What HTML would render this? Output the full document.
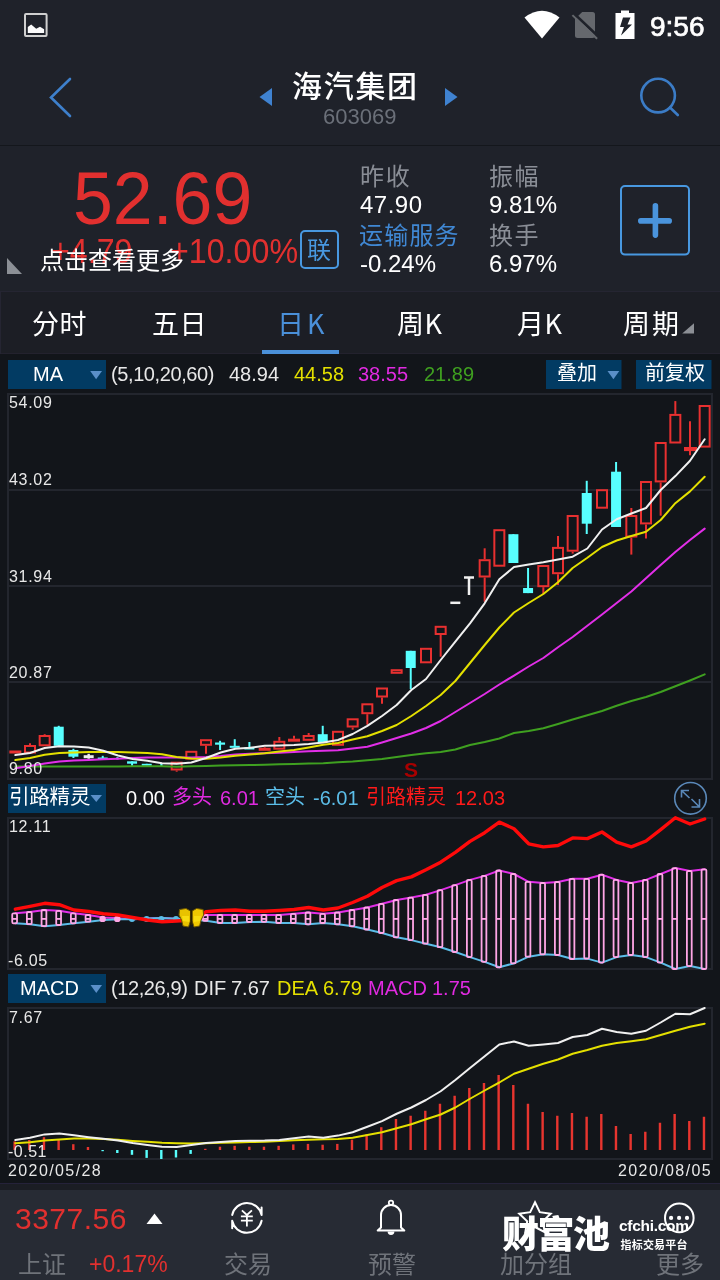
<!DOCTYPE html>
<html><head><meta charset="utf-8">
<style>
*{margin:0;padding:0;box-sizing:border-box}
html,body{width:720px;height:1280px;overflow:hidden;background:#1f222a}
body{position:relative;font-family:"Liberation Sans","Noto Sans CJK SC",sans-serif;color:#fff}
.a{position:absolute;white-space:nowrap;line-height:1}
.cjk{font-family:"Noto Sans CJK SC","Liberation Sans",sans-serif}
svg.full{position:absolute;left:0;top:0}
</style></head><body>
<!-- backgrounds -->
<div class="a" style="left:0;top:0;width:720px;height:145px;background:#1f222a"></div>
<div class="a" style="left:0;top:145px;width:720px;height:1px;background:#14171c"></div>
<div class="a" style="left:0;top:146px;width:720px;height:145px;background:#1f222a"></div>
<div class="a" style="left:0;top:291px;width:720px;height:1px;background:#252532"></div>
<div class="a" style="left:0;top:292px;width:720px;height:62px;background:#1c1e25"></div>
<div class="a" style="left:0;top:353px;width:720px;height:1px;background:#23222e"></div>
<div class="a" style="left:0;top:292px;width:1px;height:62px;background:#252532"></div>
<div class="a" style="left:0;top:354px;width:720px;height:829px;background:#12151a"></div>
<div class="a" style="left:0;top:1183px;width:720px;height:1px;background:#25223a"></div>
<div class="a" style="left:0;top:1184px;width:720px;height:6px;background:#1b1d24"></div>
<div class="a" style="left:0;top:1190px;width:720px;height:90px;background:#272b34"></div>

<!-- status bar -->
<svg class="full" width="720" height="1280" viewBox="0 0 720 1280">
 <!-- gallery icon -->
 <rect x="25" y="14" width="21.6" height="22" rx="1" fill="none" stroke="#cfcfcf" stroke-width="2"/>
 <path d="M27.8,33 L27.8,26.9 L31.2,24.6 L36.2,28.7 L40,26.8 L44.1,29.3 L44.1,33 Z" fill="#fafafa"/>
 <!-- wifi -->
 <path d="M524.5,17.5 Q542,4 559.5,17.5 L542,38.5 Z" fill="#ffffff"/>
 <!-- sim -->
 <path d="M582.2,12 L592.5,12 Q595,12 595,14.5 L595,35.5 Q595,38 592.5,38 L577.5,38 Q575,38 575,35.5 L575,19 Z" fill="#65686d"/>
 <line x1="573.6" y1="13.2" x2="599" y2="37.3" stroke="#1f222a" stroke-width="2.8"/>
 <line x1="572.4" y1="15.1" x2="597.1" y2="38.7" stroke="#65686d" stroke-width="2"/>
 <!-- battery -->
 <rect x="621" y="10.5" width="8" height="3" fill="#fff"/>
 <rect x="615.5" y="13" width="19" height="26" fill="#fff"/>
 <path d="M623,17.5 L630.5,17.5 L627.5,24.5 L632,24.5 L621,35.5 L624,27 L620,27 Z" fill="#1f222a"/>
 <!-- back chevron -->
 <polyline points="70,79 51,97.5 70,116" fill="none" stroke="#3e80cc" stroke-width="2.6" stroke-linecap="round"/>
 <!-- small triangles -->
 <path d="M272,88 L272,106 L259.5,97 Z" fill="#3f82d0"/>
 <path d="M445,88 L445,106 L457.5,97 Z" fill="#3f82d0"/>
 <!-- search -->
 <circle cx="658.1" cy="95.6" r="16.8" fill="none" stroke="#3b7cc6" stroke-width="2.6"/>
 <line x1="670" y1="107.5" x2="677.8" y2="115" stroke="#3b7cc6" stroke-width="2.6" stroke-linecap="round"/>
 <!-- gray corner triangle -->
 <path d="M7,258 L22,274 L7,274 Z" fill="#8c9096"/>
 <!-- lian box -->
 <rect x="301" y="231" width="37" height="37" rx="4" fill="none" stroke="#4898e0" stroke-width="2"/>
 <!-- plus box -->
 <rect x="621" y="186" width="68" height="68.6" rx="4" fill="none" stroke="#4898e0" stroke-width="2"/>
 <path d="M640.8,220.9 L669.2,220.9 M655.4,205.8 L655.4,235.1" stroke="#4a94dc" stroke-width="5.6" stroke-linecap="round"/>
 <!-- tab underline -->
 <rect x="262" y="350" width="77" height="4" fill="#4a90d9"/>
 <!-- 周期 triangle -->
 <path d="M694,323.3 L694,333.6 L682.2,333.6 Z" fill="#8c8f95"/>
 <!-- legend boxes -->
 <rect x="8" y="360" width="98" height="29" fill="#023b63"/>
 <path d="M90.2,371 L102,371 L96.1,379.2 Z" fill="#5a8fc8"/>
 <rect x="546" y="360" width="75.5" height="29" fill="#023b63"/>
 <path d="M607.5,371 L619.3,371 L613.4,379.2 Z" fill="#5a8fc8"/>
 <rect x="636" y="360" width="75.5" height="29" fill="#023b63"/>
 <rect x="8" y="784" width="98" height="29" fill="#023b63"/>
 <path d="M90.5,795 L102,795 L96.25,802 Z" fill="#5a8fc8"/>
 <rect x="8" y="974" width="98" height="29" fill="#023b63"/>
 <path d="M90.5,985 L102,985 L96.25,993 Z" fill="#5a8fc8"/>
 <!-- expand icon -->
 <circle cx="690.5" cy="798.3" r="15.8" fill="none" stroke="#5a88b8" stroke-width="1.6"/>
 <path d="M681.5,797.5 L681.5,790.5 L689,790.5 M681.5,790.5 L689.5,798" fill="none" stroke="#5a88b8" stroke-width="1.6"/>
 <path d="M699.5,799 L699.5,807 L691.5,807 M699.5,807 L691.5,799" fill="none" stroke="#5a88b8" stroke-width="1.6"/>
<rect x="8" y="394" width="704" height="385" fill="none" stroke="#23262e" stroke-width="2"/>
<line x1="8" x2="712" y1="490" y2="490" stroke="#23262e" stroke-width="2"/>
<line x1="8" x2="712" y1="586" y2="586" stroke="#23262e" stroke-width="2"/>
<line x1="8" x2="712" y1="682" y2="682" stroke="#23262e" stroke-width="2"/>
<rect x="8" y="818" width="704" height="151" fill="none" stroke="#23262e" stroke-width="2"/>
<rect x="8" y="1008" width="704" height="151" fill="none" stroke="#23262e" stroke-width="2"/>
<rect x="9.33" y="750.5" width="12" height="3" fill="#e83030"/>
<line x1="30" x2="30" y1="743.3" y2="745" stroke="#e83030" stroke-width="2"/>
<rect x="25" y="746" width="10" height="6.5" fill="none" stroke="#e83030" stroke-width="2"/>
<line x1="44.67" x2="44.67" y1="734.2" y2="735" stroke="#e83030" stroke-width="2"/>
<rect x="39.67" y="736" width="10" height="9.3" fill="none" stroke="#e83030" stroke-width="2"/>
<line x1="58.73" x2="58.73" y1="725.8" y2="745.8" stroke="#58ffff" stroke-width="2"/>
<rect x="53.73" y="726.7" width="10" height="19.1" fill="#58ffff"/>
<line x1="73.4" x2="73.4" y1="748.8" y2="758" stroke="#58ffff" stroke-width="2"/>
<rect x="68.4" y="750" width="10" height="6.7" fill="#58ffff"/>
<line x1="88.67" x2="88.67" y1="753.8" y2="758.7" stroke="#f0f0f0" stroke-width="2.4"/>
<line x1="83.67" x2="93.67" y1="756.7" y2="756.7" stroke="#f0f0f0" stroke-width="3"/>
<line x1="102.73" x2="102.73" y1="755.8" y2="758.7" stroke="#58ffff" stroke-width="2"/>
<rect x="97.73" y="757.5" width="10" height="2" fill="#58ffff"/>
<line x1="117.4" x2="117.4" y1="757.2" y2="759.5" stroke="#58ffff" stroke-width="2.2"/>
<line x1="132.07" x2="132.07" y1="761.3" y2="765.8" stroke="#58ffff" stroke-width="2"/>
<rect x="127.07" y="761.3" width="10" height="2.4" fill="#58ffff"/>
<line x1="146.73" x2="146.73" y1="763.8" y2="765.5" stroke="#58ffff" stroke-width="2"/>
<rect x="141.73" y="763.8" width="10" height="2" fill="#58ffff"/>
<line x1="161.4" x2="161.4" y1="763.5" y2="766" stroke="#58ffff" stroke-width="2.2"/>
<line x1="176.67" x2="176.67" y1="770.5" y2="771.7" stroke="#e83030" stroke-width="2"/>
<rect x="171.67" y="762.7" width="10" height="6.8" fill="none" stroke="#e83030" stroke-width="2"/>
<rect x="186.33" y="751.8" width="10" height="6.9" fill="none" stroke="#e83030" stroke-width="2"/>
<line x1="206" x2="206" y1="745.8" y2="753.7" stroke="#e83030" stroke-width="2"/>
<rect x="201" y="740.2" width="10" height="4.6" fill="none" stroke="#e83030" stroke-width="2"/>
<line x1="220.07" x2="220.07" y1="740.8" y2="750" stroke="#58ffff" stroke-width="2"/>
<rect x="215.07" y="742.5" width="10" height="2.2" fill="#58ffff"/>
<line x1="234.73" x2="234.73" y1="739.2" y2="747.2" stroke="#58ffff" stroke-width="2"/>
<rect x="229.73" y="745.8" width="10" height="2" fill="#58ffff"/>
<line x1="249.4" x2="249.4" y1="742" y2="748.7" stroke="#58ffff" stroke-width="2"/>
<rect x="244.4" y="747.5" width="10" height="2" fill="#58ffff"/>
<line x1="264.67" x2="264.67" y1="747" y2="747.8" stroke="#e83030" stroke-width="2"/>
<rect x="258.67" y="747.8" width="12" height="3" fill="#e83030"/>
<line x1="279.33" x2="279.33" y1="737" y2="740.8" stroke="#e83030" stroke-width="2"/>
<rect x="274.33" y="741.8" width="10" height="6.9" fill="none" stroke="#e83030" stroke-width="2"/>
<line x1="294" x2="294" y1="735.8" y2="738.7" stroke="#e83030" stroke-width="2"/>
<rect x="288" y="738.7" width="12" height="3" fill="#e83030"/>
<line x1="308.67" x2="308.67" y1="733" y2="735" stroke="#e83030" stroke-width="2"/>
<rect x="303.67" y="736" width="10" height="3.8" fill="none" stroke="#e83030" stroke-width="2"/>
<line x1="322.73" x2="322.73" y1="725.8" y2="742.5" stroke="#58ffff" stroke-width="2"/>
<rect x="317.73" y="734.2" width="10" height="8.3" fill="#58ffff"/>
<rect x="333" y="731.8" width="10" height="13" fill="none" stroke="#e83030" stroke-width="2"/>
<line x1="352.67" x2="352.67" y1="727.5" y2="729.7" stroke="#e83030" stroke-width="2"/>
<rect x="347.67" y="719.3" width="10" height="7.2" fill="none" stroke="#e83030" stroke-width="2"/>
<line x1="367.33" x2="367.33" y1="714.2" y2="724.7" stroke="#e83030" stroke-width="2"/>
<rect x="362.33" y="704.3" width="10" height="8.9" fill="none" stroke="#e83030" stroke-width="2"/>
<line x1="382" x2="382" y1="697.5" y2="703.7" stroke="#e83030" stroke-width="2"/>
<rect x="377" y="688.5" width="10" height="8" fill="none" stroke="#e83030" stroke-width="2"/>
<rect x="391.67" y="670.2" width="10" height="2.6" fill="none" stroke="#e83030" stroke-width="2"/>
<line x1="410.73" x2="410.73" y1="650.8" y2="689.2" stroke="#58ffff" stroke-width="2"/>
<rect x="405.73" y="650.8" width="10" height="17.2" fill="#58ffff"/>
<rect x="421" y="648.8" width="10" height="13.5" fill="none" stroke="#e83030" stroke-width="2"/>
<line x1="440.67" x2="440.67" y1="635" y2="656.7" stroke="#e83030" stroke-width="2"/>
<rect x="435.67" y="626.8" width="10" height="7.2" fill="none" stroke="#e83030" stroke-width="2"/>
<line x1="450.33" x2="460.33" y1="602.8" y2="602.8" stroke="#f0f0f0" stroke-width="2.5"/>
<line x1="464" x2="474" y1="577.5" y2="577.5" stroke="#f0f0f0" stroke-width="2.5"/>
<line x1="469" x2="469" y1="577.5" y2="595" stroke="#f0f0f0" stroke-width="2.5"/>
<line x1="484.67" x2="484.67" y1="548.3" y2="559.2" stroke="#e83030" stroke-width="2"/>
<line x1="484.67" x2="484.67" y1="577.5" y2="601.7" stroke="#e83030" stroke-width="2"/>
<rect x="479.67" y="560.2" width="10" height="16.3" fill="none" stroke="#e83030" stroke-width="2"/>
<rect x="494.33" y="530.2" width="10" height="35.5" fill="none" stroke="#e83030" stroke-width="2"/>
<line x1="513.4" x2="513.4" y1="534.2" y2="563" stroke="#58ffff" stroke-width="2"/>
<rect x="508.4" y="534.2" width="10" height="28.8" fill="#58ffff"/>
<line x1="528.07" x2="528.07" y1="568" y2="593.1" stroke="#58ffff" stroke-width="2"/>
<rect x="523.07" y="588" width="10" height="5.1" fill="#58ffff"/>
<line x1="543.33" x2="543.33" y1="587.2" y2="594.2" stroke="#e83030" stroke-width="2"/>
<rect x="538.33" y="566" width="10" height="20.2" fill="none" stroke="#e83030" stroke-width="2"/>
<line x1="558" x2="558" y1="536.1" y2="546.9" stroke="#e83030" stroke-width="2"/>
<line x1="558" x2="558" y1="574.2" y2="585" stroke="#e83030" stroke-width="2"/>
<rect x="553" y="547.9" width="10" height="25.3" fill="none" stroke="#e83030" stroke-width="2"/>
<line x1="572.67" x2="572.67" y1="551.7" y2="553.6" stroke="#e83030" stroke-width="2"/>
<rect x="567.67" y="516" width="10" height="34.7" fill="none" stroke="#e83030" stroke-width="2"/>
<line x1="586.73" x2="586.73" y1="480.8" y2="534" stroke="#58ffff" stroke-width="2"/>
<rect x="581.73" y="493" width="10" height="30.7" fill="#58ffff"/>
<rect x="597" y="490.2" width="10" height="17.5" fill="none" stroke="#e83030" stroke-width="2"/>
<line x1="616.07" x2="616.07" y1="462" y2="527" stroke="#58ffff" stroke-width="2"/>
<rect x="611.07" y="471.7" width="10" height="55.3" fill="#58ffff"/>
<line x1="631.33" x2="631.33" y1="508" y2="515" stroke="#e83030" stroke-width="2"/>
<line x1="631.33" x2="631.33" y1="537.5" y2="554.6" stroke="#e83030" stroke-width="2"/>
<rect x="626.33" y="516" width="10" height="20.5" fill="none" stroke="#e83030" stroke-width="2"/>
<line x1="646" x2="646" y1="524.4" y2="538.6" stroke="#e83030" stroke-width="2"/>
<rect x="641" y="482" width="10" height="41.4" fill="none" stroke="#e83030" stroke-width="2"/>
<line x1="660.67" x2="660.67" y1="482.4" y2="515.7" stroke="#e83030" stroke-width="2"/>
<rect x="655.67" y="443" width="10" height="38.4" fill="none" stroke="#e83030" stroke-width="2"/>
<line x1="675.33" x2="675.33" y1="401.1" y2="413.9" stroke="#e83030" stroke-width="2"/>
<rect x="670.33" y="414.9" width="10" height="27.6" fill="none" stroke="#e83030" stroke-width="2"/>
<line x1="690" x2="690" y1="421.25" y2="455.3" stroke="#e83030" stroke-width="2"/>
<rect x="684" y="447" width="13" height="4.1" fill="#e83030"/>
<rect x="699.67" y="406" width="10" height="40.6" fill="none" stroke="#e83030" stroke-width="2"/>
<polyline points="15.33,766.5 30,766.5 44.67,766.5 59.33,766.5 74,766.5 88.67,766.5 103.33,766.5 118,766.5 132.67,766.3 147.33,766.2 162,766.2 176.67,766.7 191.33,766.3 206,766 220.67,765.6 235.33,765.3 250,765 264.67,764.8 279.33,764.3 294,764 308.67,763.6 323.33,763.2 338,762.2 352.67,761.5 367.33,760.2 382,759 396.67,757 411.33,755 426,753.3 440.67,752 455.33,749.5 470,745 484.67,742 499.33,738.5 514,733 528.67,731 543.33,728.2 558,724 572.67,719.5 587.33,715.3 602,711 616.67,705.7 631.33,701 646,697 660.67,692 675.33,686.3 690,680.5 704.67,674.4" fill="none" stroke="#3fa020" stroke-width="2" stroke-linejoin="round" stroke-linecap="round" />
<polyline points="15.33,768.3 30,766 44.67,763.6 59.33,761.4 74,760.5 88.67,760 103.33,759.2 118,758.7 132.67,758 147.33,757.5 162,757.5 176.67,757.5 191.33,757.5 206,757 220.67,756 235.33,754.5 250,753.7 264.67,753.3 279.33,752.7 294,752 308.67,751.3 323.33,750.8 338,750.3 352.67,748.5 367.33,746.7 382,742.5 396.67,738 411.33,733.5 426,728 440.67,721 455.33,712 470,703 484.67,694 499.33,684.5 514,675.6 528.67,666.5 543.33,658 558,647.2 572.67,637 587.33,625.8 602,614.5 616.67,603 631.33,591.5 646,578.3 660.67,565 675.33,552 690,540 704.67,528.6" fill="none" stroke="#e22ee8" stroke-width="2" stroke-linejoin="round" stroke-linecap="round" />
<polyline points="15.33,760 30,758 44.67,754.7 59.33,753 74,752.5 88.67,752 103.33,752 118,752 132.67,752.5 147.33,753 162,754.2 176.67,757 191.33,758.5 206,758.7 220.67,757.5 235.33,755.8 250,754.5 264.67,753.3 279.33,751.5 294,750 308.67,747.5 323.33,744.7 338,743 352.67,739.5 367.33,736.3 382,731 396.67,725 411.33,716 426,706 440.67,695 455.33,681 470,663 484.67,645 499.33,627.5 514,612.5 528.67,603 543.33,594 558,582.2 572.67,568 587.33,557.8 602,547 616.67,540.5 631.33,536 646,531.7 660.67,520 675.33,503.2 690,491.4 704.67,476.8" fill="none" stroke="#e4e000" stroke-width="2" stroke-linejoin="round" stroke-linecap="round" />
<polyline points="15.33,755 30,753 44.67,748 59.33,746.3 74,746.5 88.67,747.5 103.33,750.8 118,755.5 132.67,759 147.33,760.8 162,763.3 176.67,763.8 191.33,762.5 206,758 220.67,752.5 235.33,748.8 250,747.8 264.67,745.8 279.33,745.5 294,745 308.67,744 323.33,742.5 338,740 352.67,734 367.33,725.8 382,716 396.67,705 411.33,690 426,679 440.67,660 455.33,641.7 470,623.3 484.67,603.3 499.33,579.2 514,567 528.67,564.5 543.33,562.2 558,559.5 572.67,556.7 587.33,548.5 602,529.5 616.67,519.2 631.33,513.5 646,508 660.67,490 675.33,476.1 690,460.8 704.67,439.3" fill="none" stroke="#f0f0f0" stroke-width="2" stroke-linejoin="round" stroke-linecap="round" />
<polyline points="15.33,913.3 30,912 44.67,910 59.33,910.8 74,913.3 88.67,915 103.33,917.5 118,918.3 132.67,919.2 147.33,918.6 162,918 176.67,918.8 191.33,919.5 206,915 220.67,915 235.33,915 250,915 264.67,915 279.33,915 294,913.8 308.67,912.5 323.33,913.8 338,912.5 352.67,910 367.33,907.5 382,903.8 396.67,900 411.33,897.6 426,894.8 440.67,890.1 455.33,885.1 470,879.9 484.67,875.9 499.33,870.5 514,874 528.67,881.8 543.33,883 558,882 572.67,878.8 587.33,878.8 602,874.7 616.67,879.9 631.33,883 646,879.9 660.67,874 675.33,868.1 690,871 704.67,869.3" fill="none" stroke="#e22ee8" stroke-width="2" stroke-linejoin="round" stroke-linecap="round" />
<polyline points="15.33,923.3 30,924.2 44.67,926.2 59.33,925 74,923.3 88.67,921.7 103.33,920 118,919.2 132.67,919.2 147.33,918.6 162,918 176.67,918.8 191.33,919.5 206,920.8 220.67,923 235.33,923 250,922 264.67,921.8 279.33,923 294,923 308.67,924.3 323.33,923 338,924.3 352.67,926.3 367.33,929.5 382,933 396.67,937.3 411.33,940.1 426,943.7 440.67,947.2 455.33,952 470,957.1 484.67,961.9 499.33,967.3 514,963.3 528.67,956.7 543.33,954.3 558,955 572.67,959 587.33,958.6 602,962.6 616.67,957.1 631.33,955 646,957.1 660.67,962.6 675.33,969 690,966.1 704.67,969" fill="none" stroke="#5bbde8" stroke-width="2" stroke-linejoin="round" stroke-linecap="round" />
<rect x="12.23" y="913.3" width="4.8" height="10" rx="1.3" fill="none" stroke="#ffa6e6" stroke-width="1.8"/>
<line x1="12.23" x2="17.03" y1="918.9" y2="918.9" stroke="#ffa6e6" stroke-width="1.8"/>
<rect x="26.9" y="912" width="4.8" height="12.2" rx="1.3" fill="none" stroke="#ffa6e6" stroke-width="1.8"/>
<line x1="26.9" x2="31.7" y1="918.9" y2="918.9" stroke="#ffa6e6" stroke-width="1.8"/>
<rect x="41.57" y="910" width="4.8" height="16.2" rx="1.3" fill="none" stroke="#ffa6e6" stroke-width="1.8"/>
<line x1="41.57" x2="46.37" y1="918.9" y2="918.9" stroke="#ffa6e6" stroke-width="1.8"/>
<rect x="56.23" y="910.8" width="4.8" height="14.2" rx="1.3" fill="none" stroke="#ffa6e6" stroke-width="1.8"/>
<line x1="56.23" x2="61.03" y1="918.9" y2="918.9" stroke="#ffa6e6" stroke-width="1.8"/>
<rect x="70.9" y="913.3" width="4.8" height="10" rx="1.3" fill="none" stroke="#ffa6e6" stroke-width="1.8"/>
<line x1="70.9" x2="75.7" y1="918.9" y2="918.9" stroke="#ffa6e6" stroke-width="1.8"/>
<rect x="85.57" y="915" width="4.8" height="6.7" rx="1.3" fill="none" stroke="#ffa6e6" stroke-width="1.8"/>
<line x1="85.57" x2="90.37" y1="918.9" y2="918.9" stroke="#ffa6e6" stroke-width="1.8"/>
<circle cx="102.63" cy="918.9" r="3.2" fill="#ffa6e6"/>
<circle cx="117.3" cy="918.9" r="3.2" fill="#ffa6e6"/>
<circle cx="131.97" cy="918.9" r="3" fill="#5bbde8"/>
<circle cx="146.63" cy="918.9" r="3" fill="#5bbde8"/>
<circle cx="161.3" cy="918.9" r="3" fill="#5bbde8"/>
<circle cx="175.97" cy="918.9" r="3" fill="#5bbde8"/>
<rect x="202.9" y="915" width="4.8" height="5.8" rx="1.3" fill="none" stroke="#ffa6e6" stroke-width="1.8"/>
<line x1="202.9" x2="207.7" y1="918.9" y2="918.9" stroke="#ffa6e6" stroke-width="1.8"/>
<rect x="217.57" y="915" width="4.8" height="8" rx="1.3" fill="none" stroke="#ffa6e6" stroke-width="1.8"/>
<line x1="217.57" x2="222.37" y1="918.9" y2="918.9" stroke="#ffa6e6" stroke-width="1.8"/>
<rect x="232.23" y="915" width="4.8" height="8" rx="1.3" fill="none" stroke="#ffa6e6" stroke-width="1.8"/>
<line x1="232.23" x2="237.03" y1="918.9" y2="918.9" stroke="#ffa6e6" stroke-width="1.8"/>
<rect x="246.9" y="915" width="4.8" height="7" rx="1.3" fill="none" stroke="#ffa6e6" stroke-width="1.8"/>
<line x1="246.9" x2="251.7" y1="918.9" y2="918.9" stroke="#ffa6e6" stroke-width="1.8"/>
<rect x="261.57" y="915" width="4.8" height="6.8" rx="1.3" fill="none" stroke="#ffa6e6" stroke-width="1.8"/>
<line x1="261.57" x2="266.37" y1="918.9" y2="918.9" stroke="#ffa6e6" stroke-width="1.8"/>
<rect x="276.23" y="915" width="4.8" height="8" rx="1.3" fill="none" stroke="#ffa6e6" stroke-width="1.8"/>
<line x1="276.23" x2="281.03" y1="918.9" y2="918.9" stroke="#ffa6e6" stroke-width="1.8"/>
<rect x="290.9" y="913.8" width="4.8" height="9.2" rx="1.3" fill="none" stroke="#ffa6e6" stroke-width="1.8"/>
<line x1="290.9" x2="295.7" y1="918.9" y2="918.9" stroke="#ffa6e6" stroke-width="1.8"/>
<rect x="305.57" y="912.5" width="4.8" height="11.8" rx="1.3" fill="none" stroke="#ffa6e6" stroke-width="1.8"/>
<line x1="305.57" x2="310.37" y1="918.9" y2="918.9" stroke="#ffa6e6" stroke-width="1.8"/>
<rect x="320.23" y="913.8" width="4.8" height="9.2" rx="1.3" fill="none" stroke="#ffa6e6" stroke-width="1.8"/>
<line x1="320.23" x2="325.03" y1="918.9" y2="918.9" stroke="#ffa6e6" stroke-width="1.8"/>
<rect x="334.9" y="912.5" width="4.8" height="11.8" rx="1.3" fill="none" stroke="#ffa6e6" stroke-width="1.8"/>
<line x1="334.9" x2="339.7" y1="918.9" y2="918.9" stroke="#ffa6e6" stroke-width="1.8"/>
<rect x="349.57" y="910" width="4.8" height="16.3" rx="1.3" fill="none" stroke="#ffa6e6" stroke-width="1.8"/>
<line x1="349.57" x2="354.37" y1="918.9" y2="918.9" stroke="#ffa6e6" stroke-width="1.8"/>
<rect x="364.23" y="907.5" width="4.8" height="22" rx="1.3" fill="none" stroke="#ffa6e6" stroke-width="1.8"/>
<line x1="364.23" x2="369.03" y1="918.9" y2="918.9" stroke="#ffa6e6" stroke-width="1.8"/>
<rect x="378.9" y="903.8" width="4.8" height="29.2" rx="1.3" fill="none" stroke="#ffa6e6" stroke-width="1.8"/>
<line x1="378.9" x2="383.7" y1="918.9" y2="918.9" stroke="#ffa6e6" stroke-width="1.8"/>
<rect x="393.57" y="900" width="4.8" height="37.3" rx="1.3" fill="none" stroke="#ffa6e6" stroke-width="1.8"/>
<line x1="393.57" x2="398.37" y1="918.9" y2="918.9" stroke="#ffa6e6" stroke-width="1.8"/>
<rect x="408.23" y="897.6" width="4.8" height="42.5" rx="1.3" fill="none" stroke="#ffa6e6" stroke-width="1.8"/>
<line x1="408.23" x2="413.03" y1="918.9" y2="918.9" stroke="#ffa6e6" stroke-width="1.8"/>
<rect x="422.9" y="894.8" width="4.8" height="48.9" rx="1.3" fill="none" stroke="#ffa6e6" stroke-width="1.8"/>
<line x1="422.9" x2="427.7" y1="918.9" y2="918.9" stroke="#ffa6e6" stroke-width="1.8"/>
<rect x="437.57" y="890.1" width="4.8" height="57.1" rx="1.3" fill="none" stroke="#ffa6e6" stroke-width="1.8"/>
<line x1="437.57" x2="442.37" y1="918.9" y2="918.9" stroke="#ffa6e6" stroke-width="1.8"/>
<rect x="452.23" y="885.1" width="4.8" height="66.9" rx="1.3" fill="none" stroke="#ffa6e6" stroke-width="1.8"/>
<line x1="452.23" x2="457.03" y1="918.9" y2="918.9" stroke="#ffa6e6" stroke-width="1.8"/>
<rect x="466.9" y="879.9" width="4.8" height="77.2" rx="1.3" fill="none" stroke="#ffa6e6" stroke-width="1.8"/>
<line x1="466.9" x2="471.7" y1="918.9" y2="918.9" stroke="#ffa6e6" stroke-width="1.8"/>
<rect x="481.57" y="875.9" width="4.8" height="86" rx="1.3" fill="none" stroke="#ffa6e6" stroke-width="1.8"/>
<line x1="481.57" x2="486.37" y1="918.9" y2="918.9" stroke="#ffa6e6" stroke-width="1.8"/>
<rect x="496.23" y="870.5" width="4.8" height="96.8" rx="1.3" fill="none" stroke="#ffa6e6" stroke-width="1.8"/>
<line x1="496.23" x2="501.03" y1="918.9" y2="918.9" stroke="#ffa6e6" stroke-width="1.8"/>
<rect x="510.9" y="874" width="4.8" height="89.3" rx="1.3" fill="none" stroke="#ffa6e6" stroke-width="1.8"/>
<line x1="510.9" x2="515.7" y1="918.9" y2="918.9" stroke="#ffa6e6" stroke-width="1.8"/>
<rect x="525.57" y="881.8" width="4.8" height="74.9" rx="1.3" fill="none" stroke="#ffa6e6" stroke-width="1.8"/>
<line x1="525.57" x2="530.37" y1="918.9" y2="918.9" stroke="#ffa6e6" stroke-width="1.8"/>
<rect x="540.23" y="883" width="4.8" height="71.3" rx="1.3" fill="none" stroke="#ffa6e6" stroke-width="1.8"/>
<line x1="540.23" x2="545.03" y1="918.9" y2="918.9" stroke="#ffa6e6" stroke-width="1.8"/>
<rect x="554.9" y="882" width="4.8" height="73" rx="1.3" fill="none" stroke="#ffa6e6" stroke-width="1.8"/>
<line x1="554.9" x2="559.7" y1="918.9" y2="918.9" stroke="#ffa6e6" stroke-width="1.8"/>
<rect x="569.57" y="878.8" width="4.8" height="80.2" rx="1.3" fill="none" stroke="#ffa6e6" stroke-width="1.8"/>
<line x1="569.57" x2="574.37" y1="918.9" y2="918.9" stroke="#ffa6e6" stroke-width="1.8"/>
<rect x="584.23" y="878.8" width="4.8" height="79.8" rx="1.3" fill="none" stroke="#ffa6e6" stroke-width="1.8"/>
<line x1="584.23" x2="589.03" y1="918.9" y2="918.9" stroke="#ffa6e6" stroke-width="1.8"/>
<rect x="598.9" y="874.7" width="4.8" height="87.9" rx="1.3" fill="none" stroke="#ffa6e6" stroke-width="1.8"/>
<line x1="598.9" x2="603.7" y1="918.9" y2="918.9" stroke="#ffa6e6" stroke-width="1.8"/>
<rect x="613.57" y="879.9" width="4.8" height="77.2" rx="1.3" fill="none" stroke="#ffa6e6" stroke-width="1.8"/>
<line x1="613.57" x2="618.37" y1="918.9" y2="918.9" stroke="#ffa6e6" stroke-width="1.8"/>
<rect x="628.23" y="883" width="4.8" height="72" rx="1.3" fill="none" stroke="#ffa6e6" stroke-width="1.8"/>
<line x1="628.23" x2="633.03" y1="918.9" y2="918.9" stroke="#ffa6e6" stroke-width="1.8"/>
<rect x="642.9" y="879.9" width="4.8" height="77.2" rx="1.3" fill="none" stroke="#ffa6e6" stroke-width="1.8"/>
<line x1="642.9" x2="647.7" y1="918.9" y2="918.9" stroke="#ffa6e6" stroke-width="1.8"/>
<rect x="657.57" y="874" width="4.8" height="88.6" rx="1.3" fill="none" stroke="#ffa6e6" stroke-width="1.8"/>
<line x1="657.57" x2="662.37" y1="918.9" y2="918.9" stroke="#ffa6e6" stroke-width="1.8"/>
<rect x="672.23" y="868.1" width="4.8" height="100.9" rx="1.3" fill="none" stroke="#ffa6e6" stroke-width="1.8"/>
<line x1="672.23" x2="677.03" y1="918.9" y2="918.9" stroke="#ffa6e6" stroke-width="1.8"/>
<rect x="686.9" y="871" width="4.8" height="95.1" rx="1.3" fill="none" stroke="#ffa6e6" stroke-width="1.8"/>
<line x1="686.9" x2="691.7" y1="918.9" y2="918.9" stroke="#ffa6e6" stroke-width="1.8"/>
<rect x="701.57" y="869.3" width="4.8" height="99.7" rx="1.3" fill="none" stroke="#ffa6e6" stroke-width="1.8"/>
<line x1="701.57" x2="706.37" y1="918.9" y2="918.9" stroke="#ffa6e6" stroke-width="1.8"/>
<polyline points="15.33,909.2 30,906.3 44.67,903.3 59.33,904.7 74,910 88.67,911.5 103.33,913.8 118,915 132.67,917.5 147.33,920 162,921.7 176.67,921 191.33,920 206,911.7 220.67,910.5 235.33,910 250,911.3 264.67,911.3 279.33,910.5 294,909.5 308.67,907.5 323.33,910 338,908 352.67,902.5 367.33,896.3 382,887.5 396.67,880.6 411.33,876.9 426,869.8 440.67,862.2 455.33,852.3 470,841.4 484.67,832.7 499.33,822.1 514,828.7 528.67,843.8 543.33,846.9 558,845.5 572.67,837.9 587.33,838.6 602,832 616.67,842.2 631.33,846.9 646,841 660.67,829.6 675.33,817.8 690,824 704.67,819" fill="none" stroke="#ff0a0a" stroke-width="3.4" stroke-linejoin="round" stroke-linecap="round" />
<g stroke="#6b5400" stroke-width="1" stroke-linejoin="round"><path d="M190.5,911 L186,908.5 L179.5,909.5 L179,915 L181.5,920 L183,926 L188.5,927 L190.5,921 Z" fill="#e8c200"/><path d="M192.1,911 L196.6,908.5 L203.1,909.5 L203.6,915 L201.1,920 L199.6,926 L194.1,927 L192.1,921 Z" fill="#f0c800"/></g>
<path d="M182,916 L189,916 L189,922 L183,921 Z M194,916 L201,916 L200,921 L194,922 Z" fill="#f8dc10"/>
<rect x="190.4" y="910" width="1.8" height="15" fill="#2a2000"/>
<rect x="13.43" y="1141.4" width="2.4" height="8.6" fill="#e8352f"/>
<rect x="28.1" y="1140" width="2.4" height="10" fill="#e8352f"/>
<rect x="42.77" y="1137.2" width="2.4" height="12.8" fill="#e8352f"/>
<rect x="57.43" y="1139.4" width="2.4" height="10.6" fill="#e8352f"/>
<rect x="72.1" y="1144.2" width="2.4" height="5.8" fill="#e8352f"/>
<rect x="86.77" y="1147" width="2.4" height="3" fill="#e8352f"/>
<rect x="101.43" y="1150" width="2.4" height="1.2" fill="#58ffff"/>
<rect x="116.1" y="1150" width="2.4" height="3" fill="#58ffff"/>
<rect x="130.77" y="1150" width="2.4" height="4.8" fill="#58ffff"/>
<rect x="145.43" y="1150" width="2.4" height="7.9" fill="#58ffff"/>
<rect x="160.1" y="1150" width="2.4" height="9" fill="#58ffff"/>
<rect x="174.77" y="1150" width="2.4" height="7.5" fill="#58ffff"/>
<rect x="189.43" y="1150" width="2.4" height="3.9" fill="#58ffff"/>
<rect x="204.1" y="1148.8" width="2.4" height="1.2" fill="#e8352f"/>
<rect x="218.77" y="1146.7" width="2.4" height="3.3" fill="#e8352f"/>
<rect x="233.43" y="1145.8" width="2.4" height="4.2" fill="#e8352f"/>
<rect x="248.1" y="1146.7" width="2.4" height="3.3" fill="#e8352f"/>
<rect x="262.77" y="1146.7" width="2.4" height="3.3" fill="#e8352f"/>
<rect x="277.43" y="1145.8" width="2.4" height="4.2" fill="#e8352f"/>
<rect x="292.1" y="1144.4" width="2.4" height="5.6" fill="#e8352f"/>
<rect x="306.77" y="1143.9" width="2.4" height="6.1" fill="#e8352f"/>
<rect x="321.43" y="1144.7" width="2.4" height="5.3" fill="#e8352f"/>
<rect x="336.1" y="1143.9" width="2.4" height="6.1" fill="#e8352f"/>
<rect x="350.77" y="1139.7" width="2.4" height="10.3" fill="#e8352f"/>
<rect x="365.43" y="1134.2" width="2.4" height="15.8" fill="#e8352f"/>
<rect x="380.1" y="1127.2" width="2.4" height="22.8" fill="#e8352f"/>
<rect x="394.77" y="1119" width="2.4" height="31" fill="#e8352f"/>
<rect x="409.43" y="1115.75" width="2.4" height="34.25" fill="#e8352f"/>
<rect x="424.1" y="1110.75" width="2.4" height="39.25" fill="#e8352f"/>
<rect x="438.77" y="1103.75" width="2.4" height="46.25" fill="#e8352f"/>
<rect x="453.43" y="1095.75" width="2.4" height="54.25" fill="#e8352f"/>
<rect x="468.1" y="1088" width="2.4" height="62" fill="#e8352f"/>
<rect x="482.77" y="1083" width="2.4" height="67" fill="#e8352f"/>
<rect x="497.43" y="1075" width="2.4" height="75" fill="#e8352f"/>
<rect x="512.1" y="1085" width="2.4" height="65" fill="#e8352f"/>
<rect x="526.77" y="1103.75" width="2.4" height="46.25" fill="#e8352f"/>
<rect x="541.43" y="1112" width="2.4" height="38" fill="#e8352f"/>
<rect x="556.1" y="1115.75" width="2.4" height="34.25" fill="#e8352f"/>
<rect x="570.77" y="1113" width="2.4" height="37" fill="#e8352f"/>
<rect x="585.43" y="1116.75" width="2.4" height="33.25" fill="#e8352f"/>
<rect x="600.1" y="1114" width="2.4" height="36" fill="#e8352f"/>
<rect x="614.77" y="1126" width="2.4" height="24" fill="#e8352f"/>
<rect x="629.43" y="1134" width="2.4" height="16" fill="#e8352f"/>
<rect x="644.1" y="1131.75" width="2.4" height="18.25" fill="#e8352f"/>
<rect x="658.77" y="1122.75" width="2.4" height="27.25" fill="#e8352f"/>
<rect x="673.43" y="1114" width="2.4" height="36" fill="#e8352f"/>
<rect x="688.1" y="1121" width="2.4" height="29" fill="#e8352f"/>
<rect x="702.77" y="1116.75" width="2.4" height="33.25" fill="#e8352f"/>
<polyline points="15.33,1143.3 30,1142.2 44.67,1140.6 59.33,1139.4 74,1138.6 88.67,1138.6 103.33,1139 118,1139.8 132.67,1140.9 147.33,1141.8 162,1142.7 176.67,1143.2 191.33,1143.6 206,1143.2 220.67,1142.8 235.33,1142.5 250,1142 264.67,1141.7 279.33,1141 294,1140.3 308.67,1139.7 323.33,1139.3 338,1138.9 352.67,1137.8 367.33,1135 382,1132.2 396.67,1128.25 411.33,1124.25 426,1119.25 440.67,1114.5 455.33,1107.5 470,1098.75 484.67,1090.5 499.33,1082.5 514,1073.75 528.67,1068.75 543.33,1063.75 558,1059.5 572.67,1053.75 587.33,1050 602,1045.75 616.67,1043 631.33,1041.25 646,1039.25 660.67,1035 675.33,1030.75 690,1026.75 704.67,1023.75" fill="none" stroke="#e4e000" stroke-width="2" stroke-linejoin="round" stroke-linecap="round" />
<polyline points="15.33,1140 30,1137.8 44.67,1134.4 59.33,1133.6 74,1135.3 88.67,1137.2 103.33,1138.8 118,1140.5 132.67,1143 147.33,1145 162,1146.7 176.67,1147 191.33,1145 206,1143 220.67,1142 235.33,1141.1 250,1140.8 264.67,1140.6 279.33,1140 294,1138.3 308.67,1136.4 323.33,1137.8 338,1135.6 352.67,1132.2 367.33,1126.7 382,1121.1 396.67,1113.75 411.33,1107.5 426,1100 440.67,1091.25 455.33,1080 470,1068 484.67,1056.25 499.33,1044.5 514,1041.5 528.67,1045.75 543.33,1044.5 558,1043 572.67,1037 587.33,1035 602,1028.75 616.67,1032 631.33,1033.75 646,1030.75 660.67,1022.5 675.33,1013.75 690,1014.25 704.67,1008" fill="none" stroke="#f0f0f0" stroke-width="2" stroke-linejoin="round" stroke-linecap="round" />
 <!-- bottom nav icons -->
 <path d="M154.5,1213.5 L162.5,1224 L146.5,1224 Z" fill="#fff"/>
 <!-- trade icon -->
 <g fill="none" stroke="#fff" stroke-width="2" stroke-linecap="round" stroke-linejoin="round">
  <path d="M232.2,1215 A15,15 0 0 1 261.6,1215 L261.6,1207.6"/>
  <path d="M261.6,1220.8 A15,15 0 0 1 232.2,1220.8 L232.2,1228.2"/>
  <path d="M241.9,1210.4 L246.9,1215 L251.9,1210.4 M246.9,1215 L246.9,1226.6 M240.9,1216.3 L252.8,1216.3 M240.9,1220.7 L252.8,1220.7" stroke-width="1.8" stroke-linecap="butt"/>
 </g>
 <!-- bell -->
 <g fill="none" stroke="#fff" stroke-width="2" stroke-linejoin="round">
  <path d="M381,1227.5 L381,1215 A10,10 0 0 1 401,1215 L401,1227.5 L404.3,1230.5 L377.7,1230.5 Z"/>
  <circle cx="391" cy="1202.8" r="2.2" stroke-width="1.8"/>
 </g>
 <path d="M387.6,1231.5 A3.4,3.4 0 0 0 394.4,1231.5 Z" fill="#fff"/>
 <!-- more icon -->
 <circle cx="679.3" cy="1217.9" r="14.3" fill="none" stroke="#fff" stroke-width="2"/>
 <circle cx="671.1" cy="1217.9" r="2.1" fill="#fff"/>
 <circle cx="679.1" cy="1217.9" r="2.1" fill="#fff"/>
 <circle cx="687" cy="1217.9" r="2.1" fill="#fff"/>
 <!-- watermark star -->
 <path d="M535.0,1202.3 L539.8,1212.2 L550.7,1213.7 L542.8,1221.3 L544.7,1232.1 L535.0,1227.0 L525.3,1232.1 L527.2,1221.3 L519.3,1213.7 L530.2,1212.2 Z" fill="none" stroke="#fff" stroke-width="2" stroke-linejoin="miter"/>
</svg>

<!-- texts -->
<div class="a" style="left:650px;top:12.5px;font-size:28px;-webkit-text-stroke:0.7px #fff;color:#fff">9:56</div>
<div class="a cjk" style="left:292px;top:69px;font-size:30px;letter-spacing:1.7px;font-weight:500;color:#fff">海汽集团</div>
<div class="a" style="left:323px;top:106px;font-size:22px;color:#6b7079">603069</div>

<div class="a" style="left:73px;top:161px;font-size:75px;color:#e2302f;transform:scaleX(0.955);transform-origin:0 0">52.69</div>
<div class="a" style="left:51px;top:233px;font-size:35px;color:#e2302f;transform:scaleX(0.92);transform-origin:0 0">+4.79</div><div class="a" style="left:170px;top:233px;font-size:35px;color:#e2302f;transform:scaleX(0.92);transform-origin:0 0">+10.00%</div>
<div class="a cjk" style="left:40px;top:246.5px;font-size:24px;color:#fff">点击查看更多</div>
<div class="a cjk" style="left:307px;top:237px;font-size:24px;color:#4898e0">联</div>

<div class="a cjk" style="left:360px;top:162.5px;font-size:24px;letter-spacing:1.8px;color:#8a8e96">昨收</div>
<div class="a" style="left:360px;top:193px;font-size:24px;letter-spacing:0.5px;color:#fff">47.90</div>
<div class="a cjk" style="left:359px;top:222px;font-size:24px;letter-spacing:1.2px;color:#4088d4">运输服务</div>
<div class="a" style="left:360px;top:252px;font-size:24px;color:#fff">-0.24%</div>
<div class="a cjk" style="left:489px;top:162.5px;font-size:24px;letter-spacing:1.5px;color:#8a8e96">振幅</div>
<div class="a" style="left:489px;top:193px;font-size:24px;color:#fff">9.81%</div>
<div class="a cjk" style="left:489px;top:221.5px;font-size:24px;letter-spacing:1.5px;color:#8a8e96">换手</div>
<div class="a" style="left:489px;top:252px;font-size:24px;color:#fff">6.97%</div>

<div class="a cjk" style="left:32px;top:309px;font-size:27px;letter-spacing:0.5px;color:#fff">分时</div>
<div class="a cjk" style="left:152px;top:309px;font-size:27px;letter-spacing:0.5px;color:#fff">五日</div>
<div class="a cjk" style="left:277px;top:309px;font-size:27px;letter-spacing:3px;color:#4a90d9">日K</div>
<div class="a cjk" style="left:397px;top:309px;font-size:27px;letter-spacing:0.5px;color:#fff">周K</div>
<div class="a cjk" style="left:517px;top:309px;font-size:27px;letter-spacing:0.5px;color:#fff">月K</div>
<div class="a cjk" style="left:623px;top:309px;font-size:27px;letter-spacing:2px;color:#fff">周期</div>

<div class="a" style="left:33px;top:364px;font-size:20px;color:#fff">MA</div>
<div class="a" style="left:111px;top:364px;font-size:20px;letter-spacing:-0.4px;color:#e8e8e8">(5,10,20,60)</div>
<div class="a" style="left:229px;top:364px;font-size:20px;color:#e8e8e8">48.94</div>
<div class="a" style="left:294px;top:364px;font-size:20px;color:#e4e000">44.58</div>
<div class="a" style="left:358px;top:364px;font-size:20px;color:#e02ae0">38.55</div>
<div class="a" style="left:424px;top:364px;font-size:20px;color:#3fa020">21.89</div>
<div class="a cjk" style="left:557px;top:362px;font-size:20px;color:#fff">叠加</div>
<div class="a cjk" style="left:645px;top:362px;font-size:20px;color:#fff">前复权</div>

<div class="a" style="left:9px;top:395px;font-size:16px;letter-spacing:0.7px;color:#e8e8e8">54.09</div>
<div class="a" style="left:9px;top:472px;font-size:16px;letter-spacing:0.7px;color:#e8e8e8">43.02</div>
<div class="a" style="left:9px;top:569px;font-size:16px;letter-spacing:0.7px;color:#e8e8e8">31.94</div>
<div class="a" style="left:9px;top:665px;font-size:16px;letter-spacing:0.7px;color:#e8e8e8">20.87</div>
<div class="a" style="left:9px;top:761px;font-size:16px;letter-spacing:0.7px;color:#e8e8e8">9.80</div>
<div class="a" style="left:404px;top:758.5px;font-size:21px;font-weight:bold;color:#a80000">S</div>

<div class="a cjk" style="left:9px;top:785px;font-size:20.5px;letter-spacing:-0.2px;color:#fff">引路精灵</div>
<div class="a" style="left:126px;top:788px;font-size:20px;color:#fff">0.00</div>
<div class="a cjk" style="left:172px;top:786px;font-size:20px;color:#e02ae0">多头</div>
<div class="a" style="left:220px;top:788px;font-size:20px;color:#e02ae0">6.01</div>
<div class="a cjk" style="left:265px;top:786px;font-size:20px;color:#5bbde8">空头</div>
<div class="a" style="left:313px;top:788px;font-size:20px;color:#5bbde8">-6.01</div>
<div class="a cjk" style="left:366px;top:786px;font-size:20px;color:#ff1a1a">引路精灵</div>
<div class="a" style="left:455px;top:788px;font-size:20px;color:#ff1a1a">12.03</div>

<div class="a" style="left:9px;top:819px;font-size:16px;letter-spacing:0.7px;color:#e8e8e8">12.11</div>
<div class="a" style="left:8px;top:953px;font-size:16px;letter-spacing:0.7px;color:#e8e8e8">-6.05</div>

<div class="a" style="left:20px;top:978px;font-size:20px;color:#fff">MACD</div>
<div class="a" style="left:111px;top:978px;font-size:20px;letter-spacing:-0.4px;color:#e8e8e8">(12,26,9)</div>
<div class="a" style="left:194px;top:978px;font-size:20px;color:#e8e8e8">DIF</div>
<div class="a" style="left:231px;top:978px;font-size:20px;color:#e8e8e8">7.67</div>
<div class="a" style="left:277px;top:978px;font-size:20px;color:#e4e000">DEA</div>
<div class="a" style="left:323px;top:978px;font-size:20px;color:#e4e000">6.79</div>
<div class="a" style="left:368px;top:978px;font-size:20px;color:#e02ae0">MACD</div>
<div class="a" style="left:432px;top:978px;font-size:20px;color:#e02ae0">1.75</div>

<div class="a" style="left:9px;top:1010px;font-size:16px;letter-spacing:0.7px;color:#e8e8e8">7.67</div>
<div class="a" style="left:8px;top:1143.5px;font-size:16px;letter-spacing:0.5px;color:#e8e8e8">-0.51</div>
<div class="a" style="left:8px;top:1163px;font-size:16px;letter-spacing:1.4px;color:#e8e8e8">2020/05/28</div>
<div class="a" style="left:618px;top:1163px;font-size:16px;letter-spacing:1.4px;color:#e8e8e8">2020/08/05</div>

<div class="a" style="left:15px;top:1204px;font-size:30px;letter-spacing:0.5px;color:#e2302f">3377.56</div>
<div class="a cjk" style="left:18px;top:1251px;font-size:24px;color:#6f737a">上证</div>
<div class="a" style="left:89px;top:1252.5px;font-size:23px;color:#e2302f">+0.17%</div>
<div class="a cjk" style="left:224px;top:1251px;font-size:24px;color:#6f737a">交易</div>
<div class="a cjk" style="left:368px;top:1251px;font-size:24px;color:#6f737a">预警</div>
<div class="a cjk" style="left:500px;top:1251px;font-size:24px;color:#6f737a">加分组</div>
<div class="a cjk" style="left:656px;top:1251px;font-size:24px;color:#6f737a">更多</div>

<div class="a cjk" style="left:502px;top:1214px;font-size:37px;font-weight:900;color:#fff;letter-spacing:-1.5px">财富池</div>
<div class="a" style="left:619px;top:1218px;font-size:15.5px;font-weight:bold;letter-spacing:-0.3px;color:#fff">cfchi.com</div>
<div class="a cjk" style="left:620.5px;top:1238.5px;font-size:11px;font-weight:bold;letter-spacing:0.2px;color:#fff">指标交易平台</div>
</body></html>
